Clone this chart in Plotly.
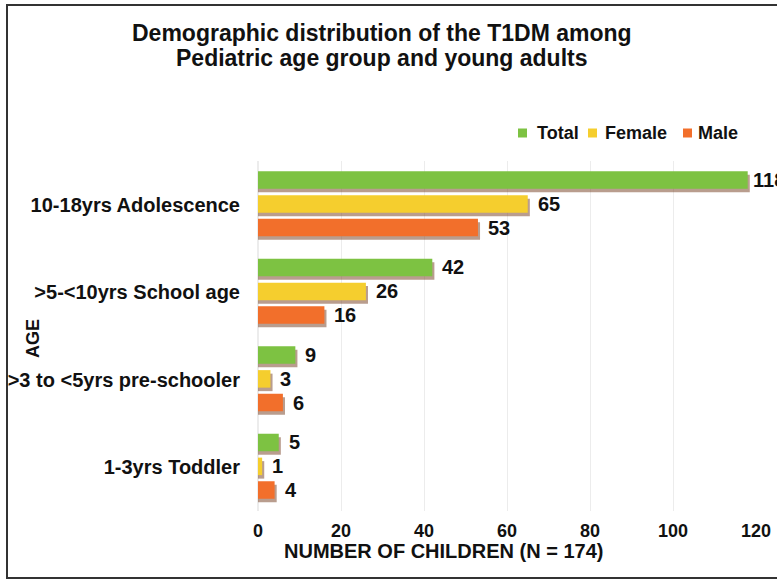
import plotly.graph_objects as go

categories = ["1-3yrs Toddler", ">3 to <5yrs pre-schooler", ">5-<10yrs School age", "10-18yrs Adolescence"]
total = [5, 9, 42, 118]
female = [1, 3, 26, 65]
male = [4, 6, 16, 53]
x_ticks = [0, 20, 40, 60, 80, 100, 120]
title_lines = ["Demographic distribution of the T1DM among", "Pediatric age group and young adults"]

FONT = "Liberation Sans, Arial, sans-serif"
series = [
    ("Total", total, "#7DC242", 0.183),
    ("Female", female, "#F5CE2E", -0.09),
    ("Male", male, "#F26F2B", -0.36),
]
BW = 0.2
W, H = 777, 581
PL, PR, PT, PB = 258, 756, 161, 511
XMAX = 120

# pixel -> paper helpers
def px(p):
    return (p - PL) / (PR - PL)

def py(p):
    return (PB - p) / (PB - PT)

fig = go.Figure()
# soft drop shadows
for name, vals, color, off in series:
    fig.add_trace(go.Bar(
        y=categories, x=[v + 0.5 for v in vals], orientation="h",
        offset=off - 0.04, width=BW,
        marker=dict(color="rgba(115,60,30,0.5)", line=dict(width=0)),
        showlegend=False, hoverinfo="skip"))
for name, vals, color, off in series:
    fig.add_trace(go.Bar(
        y=categories, x=vals, orientation="h", name=name,
        offset=off, width=BW, showlegend=False,
        marker=dict(color=color, line=dict(width=0))))

annotations = []
for name, vals, color, off in series:
    for i, v in enumerate(vals):
        end_px = PL + v * (PR - PL) / XMAX
        shift = 8 if end_px + 8 + 11 * len(str(v)) <= W else 3
        annotations.append(dict(
            x=v, y=i + off + BW / 2, xref="x", yref="y",
            text=str(v), showarrow=False, xanchor="left", yanchor="middle",
            xshift=shift, font=dict(family=FONT, size=20, color="#111", weight="bold")))

# title lines
for line, yc in zip(title_lines, [33, 58]):
    annotations.append(dict(
        x=px(382), y=py(yc), xref="paper", yref="paper", text=line,
        showarrow=False, xanchor="center", yanchor="middle",
        font=dict(family=FONT, size=23, color="#111", weight="bold")))

annotations.append(dict(
    x=px(443), y=py(551), xref="paper", yref="paper",
    text="NUMBER OF CHILDREN (N = 174)", showarrow=False,
    xanchor="center", yanchor="middle",
    font=dict(family=FONT, size=20, color="#111", weight="bold")))
annotations.append(dict(
    x=px(33), y=py(339), xref="paper", yref="paper",
    text="AGE", showarrow=False, textangle=-90,
    xanchor="center", yanchor="middle",
    font=dict(family=FONT, size=18, color="#111", weight="bold")))

shapes = [dict(
    type="rect", xref="paper", yref="paper",
    x0=px(7), x1=px(790), y0=py(578), y1=py(5),
    line=dict(color="#333", width=2), fillcolor="rgba(0,0,0,0)", layer="below")]

# custom legend (squares + labels)
legend_items = [("Total", "#7DC242", 518, 535), ("Female", "#F5CE2E", 588, 603), ("Male", "#F26F2B", 683, 696)]
for label, color, sq_x, tx in legend_items:
    shapes.append(dict(
        type="rect", xref="paper", yref="paper",
        x0=px(sq_x), x1=px(sq_x + 9), y0=py(137.5), y1=py(128.5),
        line=dict(width=0), fillcolor=color))
    annotations.append(dict(
        x=px(tx), y=py(133), xref="paper", yref="paper", text=label,
        showarrow=False, xanchor="left", yanchor="middle",
        font=dict(family=FONT, size=18, color="#111", weight="bold")))

fig.update_layout(
    width=W, height=H,
    margin=dict(l=PL, r=W - PR, t=PT, b=H - PB),
    barmode="overlay", showlegend=False,
    paper_bgcolor="white", plot_bgcolor="white",
    annotations=annotations,
    shapes=shapes,
    xaxis=dict(
        range=[0, XMAX], tickvals=x_ticks, showgrid=True, gridcolor="#ececec",
        zeroline=True, zerolinecolor="#ececec", showline=False, automargin=False,
        ticks="outside", ticklen=3, tickcolor="rgba(0,0,0,0)",
        tickfont=dict(family=FONT, size=18, color="#111", weight="bold")),
    yaxis=dict(
        categoryorder="array", categoryarray=categories, range=[-0.5, 3.5],
        showgrid=False, zeroline=False, showline=False, automargin=False,
        ticks="outside", ticklen=13, tickcolor="rgba(0,0,0,0)",
        tickfont=dict(family=FONT, size=20, color="#111", weight="bold")),
)

fig.write_html("out.html")
